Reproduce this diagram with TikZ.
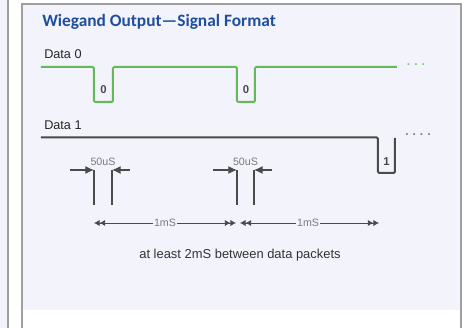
\documentclass[tikz,border=0pt]{standalone}
\usepackage{fontspec}
\setmainfont{Liberation Sans}
\newfontfamily\titlefont{Carlito}
\usepackage{xcolor}
\usetikzlibrary{arrows.meta,positioning,calc}
\definecolor{panelfill}{HTML}{F3F3FB}
\definecolor{titleblue}{HTML}{1F4E9E}
\definecolor{sigGreen}{HTML}{66B95A}
\definecolor{sigGray}{HTML}{4A4A4A}
\definecolor{noteGray}{HTML}{7A7A7A}

\begin{document}
\begin{tikzpicture}[
        x=0.75pt, y=-0.75pt,
        >={Latex[length=6.5pt,width=6pt]},
        dbl/.tip={Latex[length=4.2pt,width=4.8pt]Latex[length=4.2pt,width=4.8pt]},
        frame/.style={draw=gray!75,line width=0.8pt},
        sig0/.style={draw=sigGreen,line width=1.5pt,rounded corners=1pt},
        sig1/.style={draw=sigGray,line width=1.5pt,rounded corners=1pt},
        bitlabel/.style={font=\fontsize{8.5}{9}\selectfont\bfseries,text=sigGray,inner sep=0pt},
        linename/.style={font=\fontsize{9.5}{10}\selectfont,text=black!85,anchor=base west,inner sep=0pt},
        tickline/.style={draw=sigGray,line width=1.1pt},
        timelabel/.style={font=\fontsize{8}{9}\selectfont,text=noteGray,inner sep=1pt},
        spanline/.style={dbl-dbl,draw=sigGray,line width=0.7pt}
    ]
        % page and panel
        \useasboundingbox (0,0) rectangle (462,328);
        \fill[white] (0,0) rectangle (462,328);
        \fill[panelfill] (0,0) rectangle (8,328);
        \fill[panelfill] (22,4) rectangle (461,310);
        \draw[frame] (8,0) -- (8,328);
        \draw[frame] (22,328) -- (22,4) -- (461,4) -- (461,328);

        \node[anchor=base west,inner sep=0pt,text=titleblue,font=\titlefont\fontsize{13}{15}\selectfont\bfseries] (title) at (42,27) {Wiegand Output—Signal Format};

        % Data 0
        \node[linename] (lbl0) at (44,59) {Data 0};
        \draw[sig0] (41,67) -- (94,67) -- (94,102) -- (113,102) -- (113,67) -- (237,67) -- (237,102) -- (255,102) -- (255,67) -- (397,67);
        \node[bitlabel] (bitA) at (103.5,90) {0};
        \node[bitlabel] (bitB) at (246,90) {0};
        \node[text=sigGreen!80,font=\fontsize{9}{9}\selectfont\bfseries,inner sep=0pt] (more0) at (416,65) {.\,\,.\,\,.};

        % Data 1
        \node[linename] (lbl1) at (44,130) {Data 1};
        \draw[sig1] (41,137.5) -- (378,137.5) -- (378,173) -- (395,173) -- (395,138);
        \node[bitlabel] (bitC) at (386.5,162) {1};
        \node[text=noteGray,font=\fontsize{9}{9}\selectfont\bfseries,inner sep=0pt] (more1) at (418,135) {.\,\,.\,\,.\,\,.};

        % pulse width marks
        \foreach \a/\b/\n in {94/112/A,237/254/B}{
            \coordinate (up\n) at (\a,170);
            \coordinate (dn\n) at (\b,170);
            \draw[tickline] (\a,205) -- (up\n);
            \draw[tickline] (\b,205) -- (dn\n);
            \coordinate (inL\n) at (\a-24,170);
            \coordinate (inR\n) at (\b+18,170);
            \draw[->,tickline,line width=0.9pt] (inL\n) -- (up\n);
            \draw[->,tickline,line width=0.9pt] (inR\n) -- (dn\n);
            \node[timelabel] (w\n) at ($(up\n)!0.5!(dn\n)+(0,-8)$) {50uS};
        }

        % packet spacing
        \coordinate (s0) at (94,223);
        \coordinate (s1) at (236,223);
        \coordinate (s2) at (240,223);
        \coordinate (s3) at (379,223);
        \draw[spanline] (s0) -- node[timelabel,fill=panelfill,pos=0.5]{1mS} (s1);
        \draw[spanline] (s2) -- node[timelabel,fill=panelfill,pos=0.49]{1mS} (s3);

        \node[font=\fontsize{9.7}{11}\selectfont,text=black!80] (note) at (240,255) {at least 2mS between data packets};
    \end{tikzpicture}
\end{document}
